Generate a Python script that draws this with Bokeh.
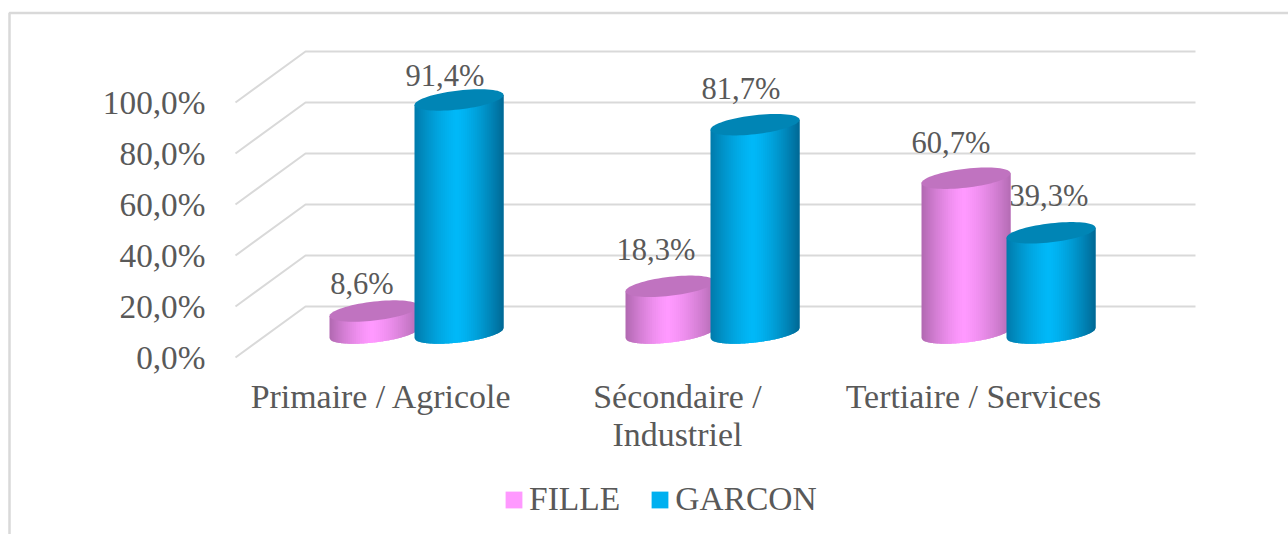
from bokeh.embed import file_html
from bokeh.resources import INLINE
from bokeh.plotting import figure
from bokeh.models import ColumnDataSource, FixedTicker, Legend, LegendItem, Range1d
from bokeh.core.properties import value
import numpy as np

categories = ["Primaire / Agricole", "Sécondaire /\nIndustriel", "Tertiaire / Services"]
series_names = ["FILLE", "GARCON"]
fille = [8.6, 18.3, 60.7]
garcon = [91.4, 81.7, 39.3]
y_ticks = [0, 20, 40, 60, 80, 100]
y_tick_labels = ["0,0%", "20,0%", "40,0%", "60,0%", "80,0%", "100,0%"]
fille_labels = ["8,6%", "18,3%", "60,7%"]
garcon_labels = ["91,4%", "81,7%", "39,3%"]

# layout, in page pixels
W, H = 1288, 534
CAT_X0, CAT_DX = 381.0, 296.0
ZERO_Y, PX_PER = 357.0, 2.55
FONT = "Liberation Serif"
TXT = "#595959"
GRID = "#d9d9d9"

def xd(px):
    return (px - CAT_X0) / CAT_DX

def yd(py):
    return (ZERO_Y - py) / PX_PER

p = figure(width=W, height=H, output_backend="svg", toolbar_location=None,
           x_range=Range1d(xd(0), xd(W)), y_range=Range1d(yd(H), yd(0)),
           min_border=0, min_border_left=0, min_border_right=0, min_border_top=0, min_border_bottom=0,
           background_fill_color="white", border_fill_color="white", outline_line_color=None)
p.grid.visible = False

# chart border
p.line(xd(np.array([9.0, 9.0, 1288.0])), yd(np.array([534.0, 12.5, 12.5])),
       line_color=GRID, line_width=2.5)

# walls: back gridlines and diagonal floor lines
WALL_X0, WALL_X1, FRONT_X = 305.0, 1195.0, 235.0
DEPTH = 20.0  # value units the back wall is raised by, from the front axis
gx, gy = [], []
for t in y_ticks:
    gx.append(xd(np.array([FRONT_X, WALL_X0, WALL_X1])))
    gy.append(np.array([t, t + DEPTH, t + DEPTH]))
p.multi_line(gx, gy, line_color=GRID, line_width=2)

# value labels sit behind the columns
LBL_DX = {"f": [-12, -14, -15], "g": [-14, -14, -2]}
LBL_DY = {"f": [-27, -36, -35], "g": [-24, -36, -37]}
BASE_OFF = 24.5 / PX_PER  # column base, above the front axis, in value units
OFF_F = -7.5 / CAT_DX
OFF_G = 77.5 / CAT_DX
for vals, labs, off, k in ((fille, fille_labels, OFF_F, "f"), (garcon, garcon_labels, OFF_G, "g")):
    src = ColumnDataSource(dict(
        x=[i + off for i in range(3)],
        y=[v + BASE_OFF for v in vals],
        t=labs, dx=LBL_DX[k], dy=LBL_DY[k]))
    p.text("x", "y", text="t", x_offset="dx", y_offset="dy", source=src,
           text_font=value(FONT), text_font_size="30.5px", text_color=TXT,
           text_align="center", text_baseline="middle")

def mix(c0, c1, t):
    return "#%02x%02x%02x" % tuple(int(round(a + (b - a) * t)) for a, b in zip(c0, c1))

def cylinder(cat_i, val, cx_off, bright, edge_l, edge_r, top):
    a_px, b_px, shear = 44.5, 9.5, 5.0 / 44.5
    a = a_px / CAT_DX
    b = b_px / PX_PER
    s = shear * a_px / PX_PER
    cx = cat_i + cx_off
    y_b = BASE_OFF
    y_t = BASE_OFF + val
    n = 44
    us = np.linspace(-1, 1, n + 1)
    xs, ys, cols = [], [], []
    for u0, u1 in zip(us[:-1], us[1:]):
        um = (u0 + u1) / 2
        ue = min(1.0, u1 + 0.05)  # overlap the next slice so no seam shows
        arc = np.linspace(ue, u0, 5)
        arc_y = y_b + s * arc - b * np.sqrt(np.clip(1 - arc * arc, 0, 1))
        xs.append(cx + a * np.concatenate([[u0, ue], arc]))
        ys.append(np.concatenate([[y_t + s * u0, y_t + s * ue], arc_y]))
        peak = -0.05
        if um < peak:
            f = (um - peak) / (-1 - peak)
            cols.append(mix(bright, edge_l, f ** 1.4))
        else:
            f = (um - peak) / (1 - peak)
            cols.append(mix(bright, edge_r, f ** 1.4))
    p.patches(xs, ys, fill_color=cols, line_color=None)
    th = np.linspace(0, 2 * np.pi, 73)
    ex = cx + a * np.cos(th)
    ey = y_t + s * np.cos(th) + b * np.sin(th)
    p.patch(ex, ey, fill_color=top, line_color=None)

PINK = (255, 153, 255); PINK_L = (176, 104, 176); PINK_R = (180, 108, 180)
BLUE = (0, 184, 248); BLUE_L = (0, 122, 170); BLUE_R = (0, 104, 148)
for i in range(3):
    cylinder(i, fille[i], OFF_F, PINK, PINK_L, PINK_R, "#c073c0")
    cylinder(i, garcon[i], OFF_G, BLUE, BLUE_L, BLUE_R, "#0085b5")

# axes, fixed inside the full-size frame
p.yaxis.fixed_location = xd(212)
p.yaxis.ticker = FixedTicker(ticks=y_ticks)
p.yaxis.major_label_overrides = dict(zip(y_ticks, y_tick_labels))
p.yaxis.axis_line_color = None
p.yaxis.major_tick_line_color = None
p.yaxis.minor_tick_line_color = None
p.yaxis.major_label_standoff = 1
p.yaxis.major_label_text_font = FONT
p.yaxis.major_label_text_font_size = "33.3px"
p.yaxis.major_label_text_color = TXT

p.xaxis.fixed_location = yd(371)
p.xaxis.ticker = FixedTicker(ticks=[0, 1, 2])
p.xaxis.major_label_overrides = dict(enumerate(categories))
p.xaxis.axis_line_color = None
p.xaxis.major_tick_line_color = None
p.xaxis.minor_tick_line_color = None
p.xaxis.major_label_standoff = 0
p.xaxis.major_label_text_font = FONT
p.xaxis.major_label_text_font_size = "33.9px"
p.xaxis.major_label_text_line_height = 1.03
p.xaxis.major_label_text_color = TXT

# legend
nan = float("nan")
r_f = p.quad(left=[nan], right=[nan], top=[nan], bottom=[nan], fill_color="#ff99ff", line_color=None)
r_g = p.quad(left=[nan], right=[nan], top=[nan], bottom=[nan], fill_color="#00b0f0", line_color=None)
legend = Legend(items=[LegendItem(label=series_names[0], renderers=[r_f], index=0),
                       LegendItem(label=series_names[1], renderers=[r_g], index=0)],
                orientation="horizontal", location=(503, 16),
                background_fill_alpha=0, border_line_color=None,
                glyph_width=21, glyph_height=21, label_standoff=5, spacing=29, padding=0, margin=0,
                label_text_font=FONT, label_text_font_size="33.5px", label_text_color=TXT)
p.add_layout(legend)

open("out.html", "w").write(file_html(p, INLINE))
